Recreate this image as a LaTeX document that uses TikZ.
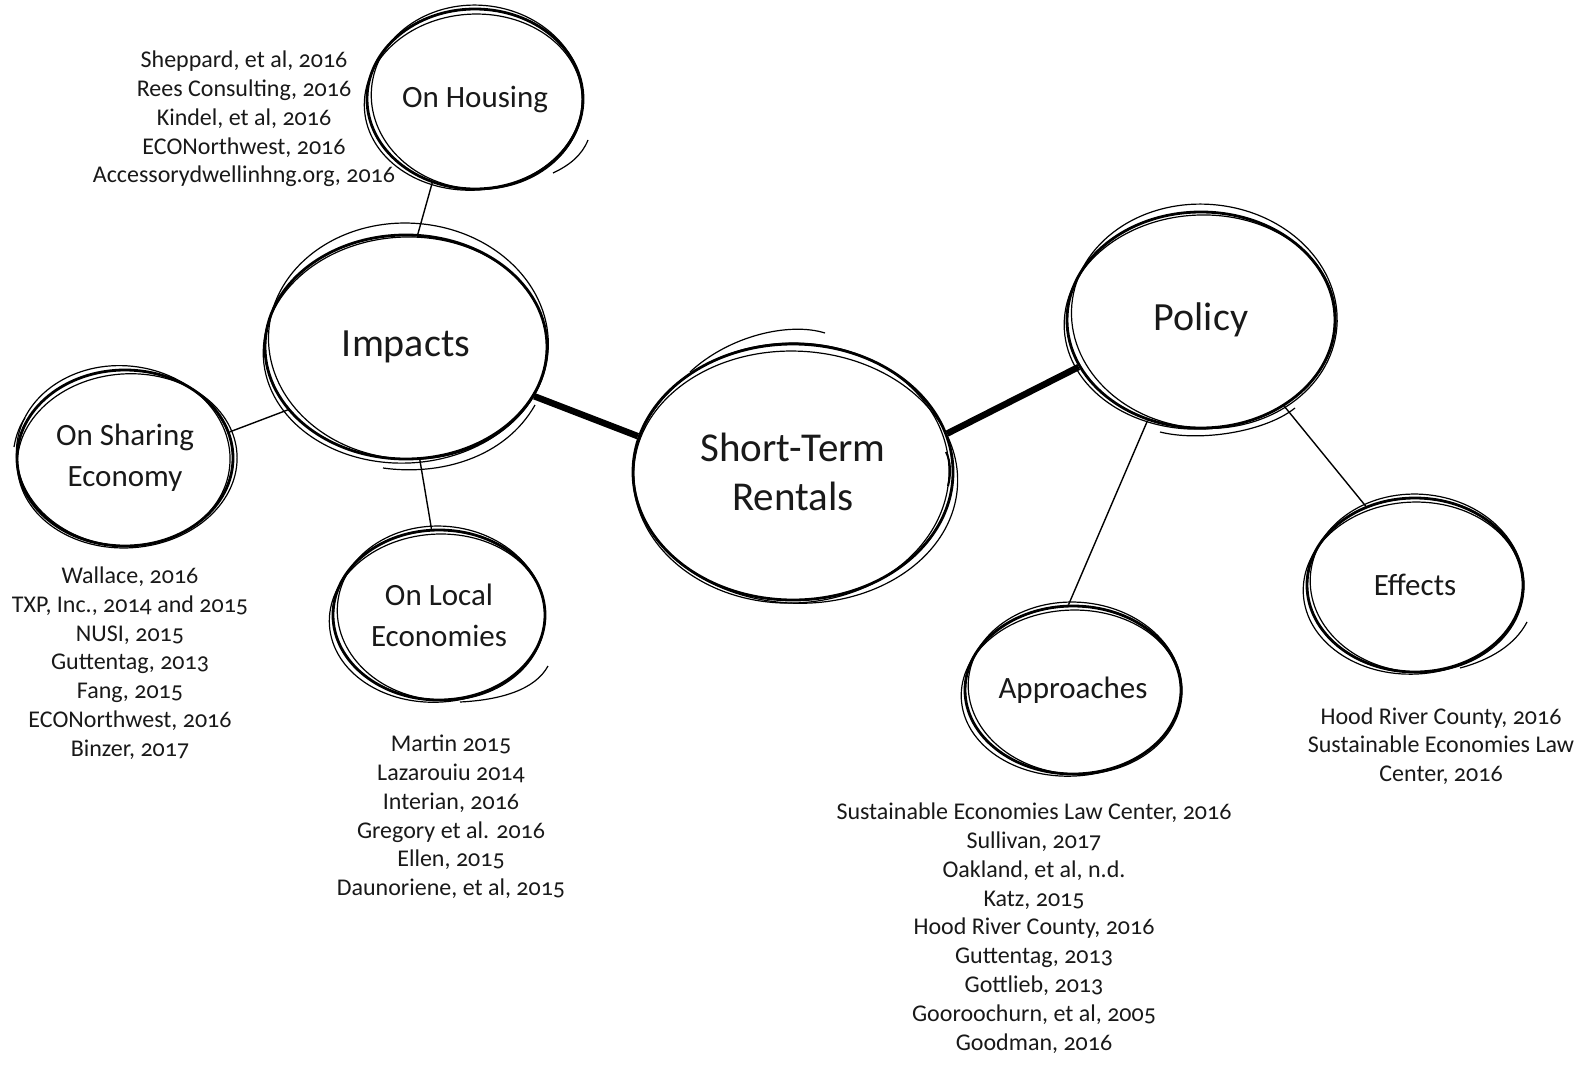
\documentclass[tikz,border=0pt]{standalone}
\usepackage{fontspec}
\setmainfont{Carlito}[Numbers=OldStyle]
\usetikzlibrary{shapes.geometric}
\newcommand{\sketchring}[6]{\draw[stroke, rotate around={#6:(#1.center)}] ([shift={(#4,#5)}]#1.center) ellipse [x radius=#2, y radius=#3];}
\begin{document}
\begin{tikzpicture}[x=1pt,y=-1pt,
  bubble/.style={ellipse, draw, line width=2.8pt, inner sep=0pt, align=center, text=black!90},
  bigtxt/.style={font=\fontsize{40}{49}\selectfont},
  midtxt/.style={font=\fontsize{31}{41}\selectfont},
  reftxt/.style={align=center, font=\fontsize{24}{28.8}\selectfont, inner sep=0pt, text=black!90},
  stroke/.style={line width=1.2pt},
  thinlink/.style={line width=1.4pt},
  thicklink/.style={line width=6.5pt}]
\useasboundingbox[fill=white] (0,0) rectangle (1590,1068);

% main bubbles
\node[bubble, font=\fontsize{41}{49}\selectfont, minimum width=320pt, minimum height=256pt] (str) at (793,472) {Short-Term\\Rentals};
\node[bubble, bigtxt, minimum width=282pt, minimum height=224pt] (impacts) at (406,347) {Impacts};
\node[bubble, bigtxt, minimum width=268pt, minimum height=216pt] (policy) at (1201,320) {Policy};
\node[bubble, midtxt, minimum width=216pt, minimum height=180pt] (housing) at (475,99) {On Housing};
\node[bubble, midtxt, minimum width=216pt, minimum height=176pt] (sharing) at (125,458) {On Sharing\\Economy};
\node[bubble, midtxt, minimum width=212pt, minimum height=170pt] (local) at (439,615) {On Local\\Economies};
\node[bubble, midtxt, minimum width=216pt, minimum height=168pt] (approaches) at (1073,690) {Approaches};
\node[bubble, midtxt, minimum width=216pt, minimum height=174pt] (effects) at (1415,585) {Effects};

% sketchy extra strokes
\sketchring{str}{162}{126}{3}{5}{-3}
\sketchring{str}{158}{130}{-2}{1}{2}
\sketchring{impacts}{140}{118}{2}{-6}{-4}
\sketchring{impacts}{142}{113}{-1}{3}{3}
\sketchring{policy}{133}{112}{3}{-4}{-5}
\sketchring{policy}{136}{107}{-1}{2}{3}
\sketchring{housing}{106}{92}{2}{-2}{-5}
\sketchring{housing}{109}{88}{-2}{3}{4}
\sketchring{sharing}{107}{90}{-2}{-2}{-6}
\sketchring{sharing}{110}{87}{2}{3}{4}
\sketchring{local}{104}{87}{2}{-2}{-5}
\sketchring{local}{108}{84}{-2}{3}{4}
\sketchring{approaches}{107}{86}{2}{-2}{-4}
\sketchring{approaches}{110}{83}{-2}{3}{3}
\sketchring{effects}{107}{89}{2}{-2}{-4}
\sketchring{effects}{110}{86}{-2}{3}{3}

\draw[stroke] (690,372) .. controls (730,335) and (790,322) .. (825,333);
\draw[stroke, line width=2pt] (946,452) .. controls (951,462) and (951,475) .. (948,486);
\draw[stroke] (383,468) .. controls (440,476) and (505,458) .. (535,405);
\draw[stroke] (1160,432) .. controls (1200,442) and (1265,432) .. (1295,408);
\draw[stroke] (588,140) .. controls (582,155) and (570,165) .. (553,173);
\draw[stroke] (14,447) .. controls (16,435) and (20,425) .. (25,418);
\draw[stroke] (548,666) .. controls (535,690) and (500,700) .. (460,702);
\draw[stroke] (1527,622) .. controls (1515,645) and (1490,660) .. (1460,668);

% connectors
\draw[thicklink] (impacts.339) -- (str.167);
\draw[thicklink] (str.14) -- (policy.201);
\draw[thinlink] (impacts.84) -- (housing.243);
\draw[thinlink] (impacts.208) -- (sharing.14);
\draw[thinlink] (impacts.277) -- (local.95);
\draw[thinlink] (policy.242) -- (approaches.93);
\draw[thinlink] (policy.314) -- (effects.122);

% reference lists
\node[reftxt] (refhousing) at (244,119) {Sheppard, et al, 2016\\Rees Consulting, 2016\\Kindel, et al, 2016\\ECONorthwest, 2016\\Accessorydwellinhng.org, 2016};
\node[reftxt] (refsharing) at (130,663) {Wallace, 2016\\TXP, Inc., 2014 and 2015\\NUSI, 2015\\Guttentag, 2013\\Fang, 2015\\ECONorthwest, 2016\\Binzer, 2017};
\node[reftxt] (reflocal) at (451,817) {Martin 2015\\Lazarouiu 2014\\Interian, 2016\\Gregory et al. 2016\\Ellen, 2015\\Daunoriene, et al, 2015};
\node[reftxt] (refapproaches) at (1034,928) {Sustainable Economies Law Center, 2016\\Sullivan, 2017\\Oakland, et al, n.d.\\Katz, 2015\\Hood River County, 2016\\Guttentag, 2013\\Gottlieb, 2013\\Gooroochurn, et al, 2005\\Goodman, 2016};
\node[reftxt] (refeffects) at (1441,746) {Hood River County, 2016\\Sustainable Economies Law\\Center, 2016};
\end{tikzpicture}
\end{document}
